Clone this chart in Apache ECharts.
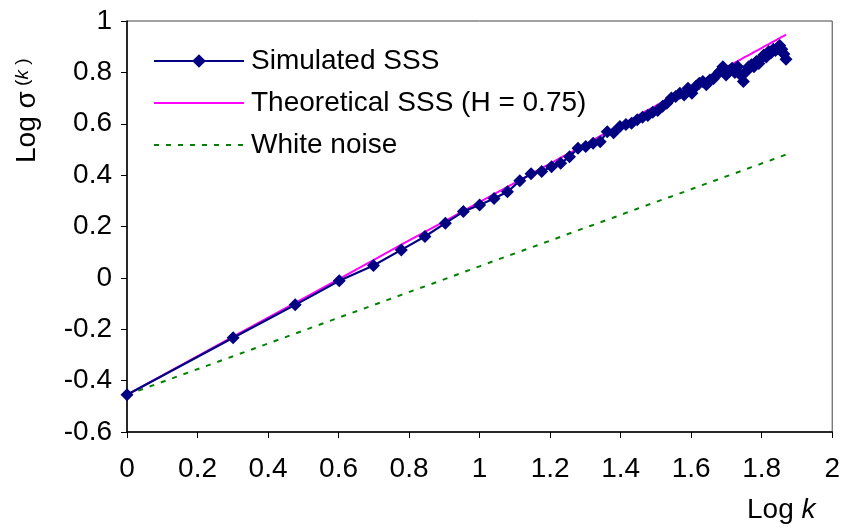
<!DOCTYPE html>
<html>
<head>
<meta charset="utf-8">
<script src="https://cdn.jsdelivr.net/npm/echarts@6/dist/echarts.min.js"></script>
<style>html,body{margin:0;padding:0;background:#fff}#c{width:843px;height:527px}</style>
</head>
<body>
<div id="c"></div>
<script>
// log10(k), k = 1..74
const logK = [0,0.301,0.477,0.602,0.699,0.778,0.845,0.903,0.954,1.000,
  1.041,1.079,1.114,1.146,1.176,1.204,1.230,1.255,1.279,1.301,
  1.322,1.342,1.362,1.380,1.398,1.415,1.431,1.447,1.462,1.477,
  1.491,1.505,1.519,1.531,1.544,1.556,1.568,1.580,1.591,1.602,
  1.613,1.623,1.633,1.643,1.653,1.663,1.672,1.681,1.690,1.699,
  1.708,1.716,1.724,1.732,1.740,1.748,1.756,1.763,1.771,1.778,
  1.785,1.792,1.799,1.806,1.813,1.820,1.826,1.833,1.839,1.845,
  1.851,1.857,1.863,1.869];
const simulated = [-0.455,-0.233,-0.105,-0.011,0.048,0.109,0.161,0.213,0.258,0.284,
  0.309,0.335,0.378,0.405,0.414,0.433,0.446,0.472,0.505,0.511,
  0.524,0.530,0.569,0.565,0.589,0.597,0.602,0.616,0.625,0.632,
  0.645,0.652,0.668,0.680,0.700,0.706,0.719,0.712,0.738,0.719,
  0.745,0.758,0.764,0.752,0.770,0.775,0.790,0.803,0.822,0.790,
  0.805,0.816,0.800,0.822,0.790,0.764,0.803,0.822,0.830,0.822,
  0.842,0.835,0.855,0.868,0.860,0.881,0.875,0.890,0.885,0.895,
  0.905,0.890,0.872,0.851];
const theoretical = [-0.455,-0.229,-0.097,-0.004,0.069,0.129,0.179,0.222,0.261,0.295,
  0.326,0.354,0.381,0.405,0.427,0.448,0.468,0.486,0.504,0.521,
  0.537,0.552,0.567,0.580,0.594,0.606,0.618,0.630,0.642,0.653,
  0.663,0.674,0.684,0.693,0.703,0.712,0.721,0.730,0.738,0.747,
  0.755,0.762,0.770,0.777,0.785,0.792,0.799,0.806,0.813,0.819,
  0.826,0.832,0.838,0.844,0.850,0.856,0.862,0.867,0.873,0.879,
  0.884,0.889,0.894,0.900,0.905,0.910,0.915,0.920,0.924,0.929,
  0.933,0.938,0.942,0.947];
const whiteNoise = [-0.455,-0.305,-0.217,-0.154,-0.106,-0.066,-0.033,-0.004,0.022,0.045,
  0.066,0.085,0.102,0.118,0.133,0.147,0.160,0.173,0.185,0.196,
  0.206,0.216,0.226,0.235,0.244,0.253,0.261,0.269,0.276,0.284,
  0.291,0.298,0.305,0.311,0.317,0.323,0.329,0.335,0.341,0.346,
  0.352,0.357,0.362,0.367,0.372,0.377,0.381,0.386,0.390,0.395,
  0.399,0.403,0.407,0.411,0.415,0.419,0.423,0.427,0.431,0.434,
  0.438,0.441,0.445,0.448,0.452,0.455,0.458,0.462,0.465,0.468,
  0.471,0.474,0.477,0.480];
const seriesNames = ['Simulated SSS','Theoretical SSS (H = 0.75)','White noise'];

const pair = (ys) => logK.map((x, i) => [x, ys[i]]);
const FONT = 'Liberation Sans, Arial, sans-serif';
const FS = 28;

const chart = echarts.init(document.getElementById('c'), null, {renderer: 'canvas'});
chart.setOption({
  animation: false,
  backgroundColor: '#fff',
  grid: {left: 127, right: 9, top: 21, bottom: 95, show: true, borderColor: '#444', borderWidth: 1},
  legend: {
    orient: 'vertical', left: 153, top: 47, padding: 0, itemWidth: 90, itemHeight: 17, itemGap: 14,
    textStyle: {fontFamily: FONT, fontSize: FS, color: '#000', padding: [0,0,0,2]},
    data: [
      {name: seriesNames[0]},
      {name: seriesNames[1], itemStyle: {opacity: 0}},
      {name: seriesNames[2], itemStyle: {opacity: 0}}
    ]
  },
  xAxis: {
    type: 'value', min: 0, max: 2, interval: 0.2,
    axisLine: {onZero: false, lineStyle: {color: '#000', width: 1.5}},
    axisTick: {show: true, length: 6, lineStyle: {color: '#000'}},
    splitLine: {show: false},
    axisLabel: {fontFamily: FONT, fontSize: FS, color: '#000', margin: 23,
      formatter: v => String(Math.round(v * 10) / 10)}
  },
  yAxis: {
    type: 'value', min: -0.6, max: 1, interval: 0.2,
    axisLine: {show: true, onZero: false, lineStyle: {color: '#000', width: 1.5}},
    axisTick: {show: true, length: 6, lineStyle: {color: '#000'}},
    splitLine: {show: false},
    axisLabel: {fontFamily: FONT, fontSize: FS, color: '#000', margin: 15,
      formatter: v => String(Math.round(v * 10) / 10)}
  },
  graphic: [
    {type: 'text', left: 747, top: 496, style: {
      text: '{n|Log }{i|k}', fill: '#000',
      rich: {n: {fontFamily: FONT, fontSize: FS}, i: {fontFamily: FONT, fontSize: FS, fontStyle: 'italic'}}
    }},
    {type: 'text', x: 13, y: 163, rotation: Math.PI / 2, style: {
      text: '{n|Log σ}{sp| (}{k|k}{sp| )}', fill: '#000', verticalAlign: 'top',
      rich: {
        n: {fontFamily: FONT, fontSize: FS, verticalAlign: 'bottom'},
        sp: {fontFamily: FONT, fontSize: 19, verticalAlign: 'top'},
        k: {fontFamily: FONT, fontSize: 19, fontStyle: 'italic', verticalAlign: 'top'}
      }
    }}
  ],
  series: [
    {
      name: seriesNames[2], type: 'line', data: pair(whiteNoise), symbol: 'none', z: 1,
      lineStyle: {color: '#008000', width: 2, type: [5, 7]}, itemStyle: {color: '#008000'}
    },
    {
      name: seriesNames[1], type: 'line', data: pair(theoretical), symbol: 'none', z: 2,
      lineStyle: {color: '#FF00FF', width: 2}, itemStyle: {color: '#FF00FF'}
    },
    {
      name: seriesNames[0], type: 'line', data: pair(simulated), z: 3,
      symbol: 'diamond', symbolSize: 13, showAllSymbol: true,
      lineStyle: {color: '#000080', width: 2.2}, itemStyle: {color: '#000080'}
    }
  ]
});
</script>
</body>
</html>
